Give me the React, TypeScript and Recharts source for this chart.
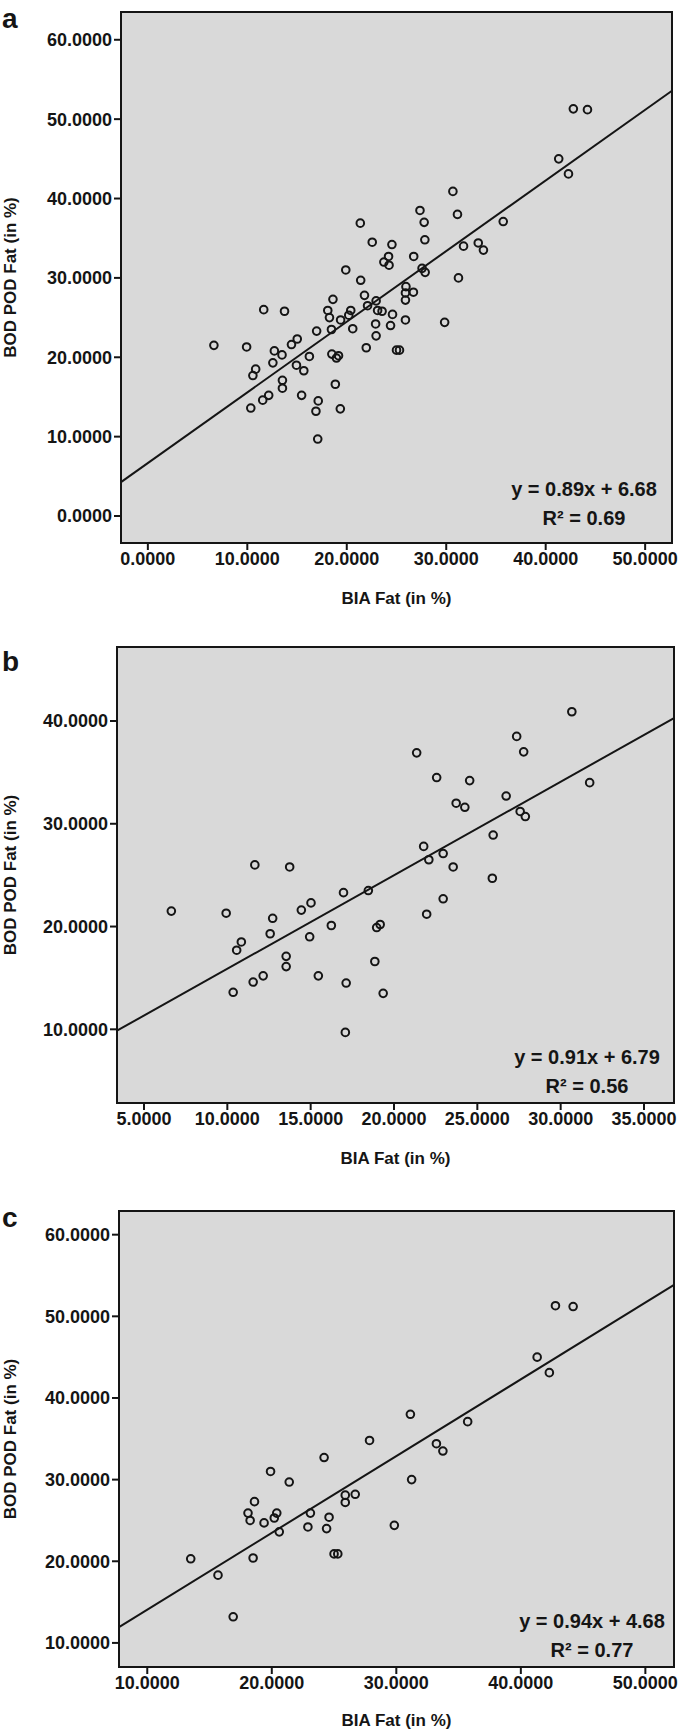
import React from 'react';
import {
  ScatterChart,
  Scatter,
  XAxis,
  YAxis,
  CartesianGrid,
  ReferenceLine,
  ReferenceArea,
} from 'recharts';

// BIA fat % (x) vs BOD POD fat % (y)
// panel b subjects
const groupB: [number, number][] = [
  [6.64, 21.5], [9.93, 21.3], [10.56, 17.7], [10.84, 18.5], [10.35, 13.6],
  [11.65, 26.0], [11.55, 14.6], [12.15, 15.2], [12.72, 20.8], [12.57, 19.3],
  [13.53, 17.1], [13.53, 16.1], [13.74, 25.8], [14.44, 21.6], [15.02, 22.3],
  [14.94, 19.0], [15.46, 15.2], [16.24, 20.1], [16.97, 23.3], [17.13, 14.5],
  [17.08, 9.7], [18.46, 23.5], [18.85, 16.6], [18.96, 19.9], [19.17, 20.2],
  [19.35, 13.5], [21.36, 36.9], [21.78, 27.8], [21.96, 21.2], [22.09, 26.5],
  [22.56, 34.5], [22.95, 27.1], [22.95, 22.7], [23.55, 25.8], [23.73, 32.0],
  [24.25, 31.6], [24.54, 34.2], [25.9, 24.7], [25.95, 28.9], [26.73, 32.7],
  [27.36, 38.5], [27.78, 37.0], [27.57, 31.2], [27.88, 30.7], [30.67, 40.9],
  [31.74, 34.0],
];

// panel c subjects
const groupC: [number, number][] = [
  [13.49, 20.3], [15.68, 18.3], [16.9, 13.2], [18.09, 25.9], [18.26, 25.0],
  [18.61, 27.3], [18.5, 20.4], [19.38, 24.7], [19.9, 31.0], [20.2, 25.3],
  [20.4, 25.9], [20.6, 23.6], [21.4, 29.7], [22.9, 24.2], [23.1, 25.9],
  [24.2, 32.7], [24.4, 24.0], [24.6, 25.4], [25.0, 20.9], [25.3, 20.9],
  [25.9, 28.1], [25.9, 27.2], [26.7, 28.2], [27.85, 34.8], [29.84, 24.4],
  [31.13, 38.0], [31.23, 30.0], [33.22, 34.4], [33.74, 33.5], [35.73, 37.1],
  [41.31, 45.0], [42.29, 43.1], [42.78, 51.3], [44.2, 51.2],
];

// panel a = everyone
const groupA: [number, number][] = [...groupB, ...groupC];

const ticksAX = [0, 10, 20, 30, 40, 50];
const ticksAY = [0, 10, 20, 30, 40, 50, 60];
const ticksBX = [5, 10, 15, 20, 25, 30, 35];
const ticksBY = [10, 20, 30, 40];
const ticksCX = [10, 20, 30, 40, 50];
const ticksCY = [10, 20, 30, 40, 50, 60];

// fit lines (slope, intercept) and R²
const fitA = { slope: 0.89, intercept: 6.68, r2: '0.69' };
const fitB = { slope: 0.91, intercept: 6.79, r2: '0.56' };
const fitC = { slope: 0.94, intercept: 4.68, r2: '0.77' };

const FONT = '"Liberation Sans", Arial, sans-serif';
const INK = '#151515';
const PLOT_BG = '#d9d9d9';

const fmt = (v: number) => v.toFixed(4);

const Dot = (p: any) => (
  <circle cx={p.cx} cy={p.cy} r={3.8} fill="none" stroke={INK} strokeWidth={2} />
);

interface PanelProps {
  letter: string;
  top: number;
  height: number;
  box: { l: number; r: number; t: number; b: number };
  xDomain: [number, number];
  yDomain: [number, number];
  xTicks: number[];
  yTicks: number[];
  points: [number, number][];
  fit: { slope: number; intercept: number; r2: string };
  letterY: number;
  xTitleY: number;
  eqX: number;
  eqY: number;
}

function Panel({
  letter, top, height, box, xDomain, yDomain, xTicks, yTicks,
  points, fit, letterY, xTitleY, eqX, eqY,
}: PanelProps) {
  const W = 683;
  const data = points.map(([x, y]) => ({ x, y }));
  const [x0, x1] = xDomain;
  const seg = [
    { x: x0, y: fit.slope * x0 + fit.intercept },
    { x: x1, y: fit.slope * x1 + fit.intercept },
  ];
  const tickStyle = { fill: INK, fontSize: 18, fontWeight: 700, fontFamily: FONT };
  const midY = (box.t + box.b) / 2;
  const midX = (box.l + box.r) / 2;

  return (
    <div style={{ position: 'absolute', left: 0, top, width: W, height }}>
      <ScatterChart
        width={W}
        height={height}
        margin={{ top: box.t, right: W - box.r, left: 0, bottom: 0 }}
      >
        <CartesianGrid horizontal={false} vertical={false} fill={PLOT_BG} fillOpacity={1} />
        <XAxis
          type="number"
          dataKey="x"
          domain={xDomain}
          ticks={xTicks}
          interval={0}
          allowDataOverflow
          height={height - box.b}
          tickFormatter={fmt}
          tickSize={7}
          tickLine={{ stroke: INK, strokeWidth: 2 }}
          axisLine={false}
          tick={tickStyle}
        />
        <YAxis
          type="number"
          dataKey="y"
          domain={yDomain}
          ticks={yTicks}
          interval={0}
          allowDataOverflow
          width={box.l}
          tickFormatter={fmt}
          tickSize={7}
          tickLine={{ stroke: INK, strokeWidth: 2 }}
          axisLine={false}
          tick={tickStyle}
        />
        <ReferenceLine
          segment={seg}
          stroke={INK}
          strokeWidth={2}
          ifOverflow="visible"
        />
        <Scatter data={data} shape={Dot} isAnimationActive={false} />
        <ReferenceArea
          x1={xDomain[0]}
          x2={xDomain[1]}
          y1={yDomain[0]}
          y2={yDomain[1]}
          fill="none"
          stroke={INK}
          strokeWidth={2}
          ifOverflow="visible"
        />
      </ScatterChart>
      <svg
        width={W}
        height={height}
        style={{ position: 'absolute', left: 0, top: 0, pointerEvents: 'none', overflow: 'visible' }}
        fontFamily={FONT}
        fill={INK}
      >
        <text x={2} y={letterY} fontSize={28} fontWeight={700}>{letter}</text>
        <text
          x={10}
          y={midY}
          fontSize={17}
          fontWeight={700}
          textAnchor="middle"
          dominantBaseline="central"
          transform={`rotate(-90 10 ${midY})`}
        >
          BOD POD Fat (in %)
        </text>
        <text x={midX} y={xTitleY} fontSize={17} fontWeight={700} textAnchor="middle" dominantBaseline="central">
          BIA Fat (in %)
        </text>
        <text x={eqX} y={eqY} fontSize={20} fontWeight={700} textAnchor="middle" dominantBaseline="central">
          {`y = ${fit.slope}x + ${fit.intercept}`}
        </text>
        <text x={eqX} y={eqY + 29} fontSize={20} fontWeight={700} textAnchor="middle" dominantBaseline="central">
          {`R² = ${fit.r2}`}
        </text>
      </svg>
    </div>
  );
}

export default function App() {
  return (
    <div style={{ position: 'absolute', left: 0, top: 0, width: 683, height: 1734, background: '#fff' }}>
      <Panel
        letter="a"
        top={0}
        height={610}
        box={{ l: 121, r: 672, t: 12, b: 543 }}
        xDomain={[-2.7, 52.7]}
        yDomain={[-3.4, 63.5]}
        xTicks={ticksAX}
        yTicks={ticksAY}
        points={groupA}
        fit={fitA}
        letterY={28}
        xTitleY={598}
        eqX={584}
        eqY={489}
      />
      <Panel
        letter="b"
        top={600}
        height={568}
        box={{ l: 117, r: 674, t: 47, b: 503 }}
        xDomain={[3.38, 36.8]}
        yDomain={[2.83, 47.2]}
        xTicks={ticksBX}
        yTicks={ticksBY}
        points={groupB}
        fit={fitB}
        letterY={71}
        xTitleY={558}
        eqX={587}
        eqY={457}
      />
      <Panel
        letter="c"
        top={1170}
        height={564}
        box={{ l: 119, r: 674, t: 41, b: 497 }}
        xDomain={[7.73, 52.3]}
        yDomain={[7.05, 62.9]}
        xTicks={ticksCX}
        yTicks={ticksCY}
        points={groupC}
        fit={fitC}
        letterY={57}
        xTitleY={550}
        eqX={592}
        eqY={451}
      />
    </div>
  );
}
